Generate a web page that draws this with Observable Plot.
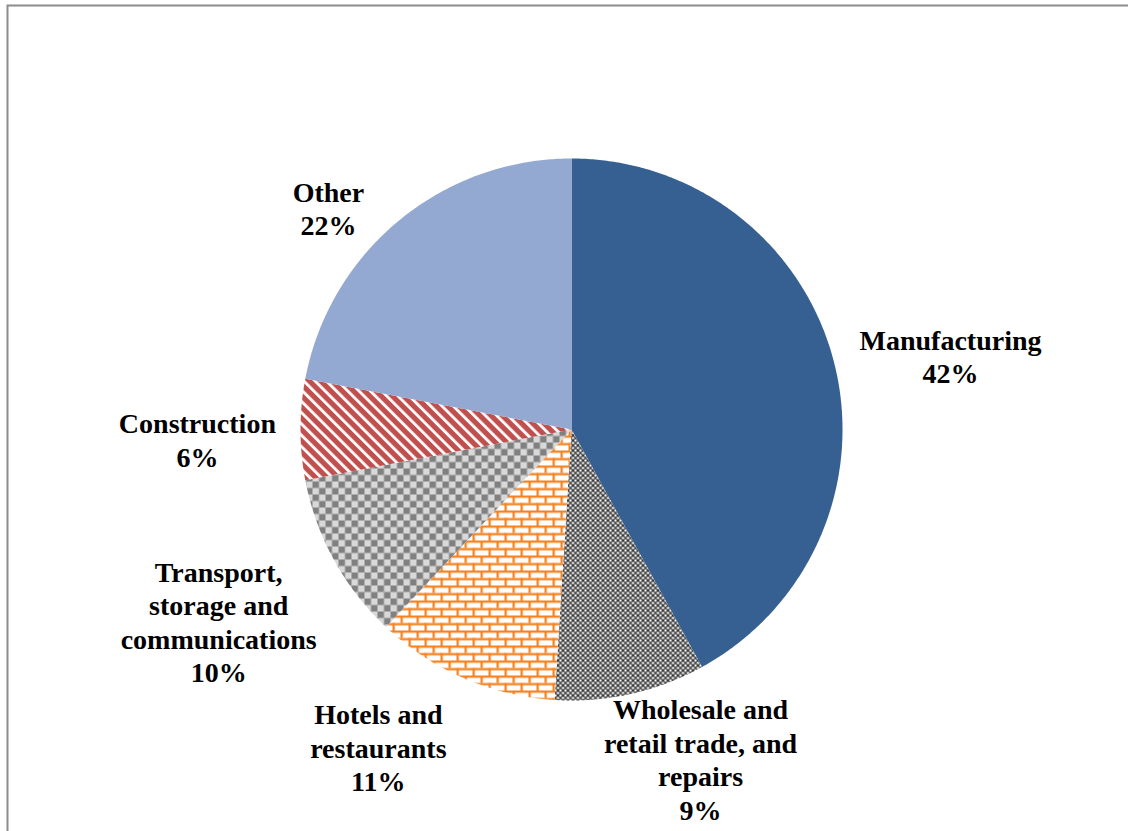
<!DOCTYPE html>
<html><head><meta charset="utf-8">
<script src="https://cdn.jsdelivr.net/npm/d3@7"></script>
<script src="https://cdn.jsdelivr.net/npm/@observablehq/plot@0.6"></script>
<style>html,body{margin:0;padding:0;background:#fff;overflow:hidden}#chart svg{display:block}</style>
</head><body><div id="chart"></div>
<script>
// ---- data ----
const sectors = ["Manufacturing", "Wholesale and retail trade, and repairs", "Hotels and restaurants",
  "Transport, storage and communications", "Construction", "Other"];
const shares = [42, 9, 11, 10, 6, 22];
const labelLines = [["Manufacturing"], ["Wholesale and", "retail trade, and", "repairs"], ["Hotels and", "restaurants"],
  ["Transport,", "storage and", "communications"], ["Construction"], ["Other"]];

// ---- styles / layout ----
const sliceFills = ["#376092", "url(#pWholesale)", "url(#pBrick)", "url(#pChecker)", "url(#pStripes)", "#94A9D1"];
const labelAngleShift = [3.4, -8.8, 7.9, 0.3, -1.5, -8];   // degrees, relative to slice mid-angle
const labelRadius = [1.43, 1.31, 1.377, 1.487, 1.386, 1.219]; // in multiples of 270px

const W = 1128, H = 831, R = 271, cx = 571, cy = 429;

const total = d3.sum(shares);
let acc = 0;
const slices = sectors.map((s, i) => {
  const a0 = acc / total * 2 * Math.PI; acc += shares[i];
  const a1 = acc / total * 2 * Math.PI;
  return {s, i, a0, a1, mid: (a0 + a1) / 2};
});
const pts = [];
for (const sl of slices) {
  const f = sliceFills[sl.i];
  pts.push({s: sl.s, f, x: 0, y: 0});
  const n = Math.max(2, Math.ceil((sl.a1 - sl.a0) / (Math.PI / 360)));
  for (let k = 0; k <= n; k++) {
    const a = sl.a0 + (sl.a1 - sl.a0) * k / n;
    pts.push({s: sl.s, f, x: Math.sin(a), y: Math.cos(a)});
  }
}
const labels = slices.map(sl => {
  const a = sl.mid + labelAngleShift[sl.i] * Math.PI / 180;
  const r = labelRadius[sl.i] * 270 / R;
  return {x: r * Math.sin(a), y: r * Math.cos(a),
    text: labelLines[sl.i].concat([Math.round(shares[sl.i] / total * 100) + "%"]).join("\n")};
});

const chart = Plot.plot({
  width: W, height: H, margin: 0,
  x: {domain: [-cx / R, (W - cx) / R], axis: null},
  y: {domain: [(cy - H) / R, cy / R], axis: null},
  color: {type: "identity"},
  marks: [
    Plot.frame({stroke: "#8c8c8c", strokeWidth: 2, insetLeft: 7, insetTop: 5, insetRight: -20, insetBottom: -20}),
    Plot.line(pts, {x: "x", y: "y", z: "s", fill: "f", stroke: "none", curve: "linear"}),
    Plot.text(labels, {x: "x", y: "y", text: "text", fontFamily: "'Liberation Serif', 'Times New Roman', serif",
      fontWeight: "bold", fontSize: 28, lineHeight: 33.5 / 28, fill: "#000", textAnchor: "middle", lineAnchor: "middle"})
  ]
});

const ns = "http://www.w3.org/2000/svg";
const defs = document.createElementNS(ns, "defs");
defs.innerHTML = `
<pattern id="pWholesale" patternUnits="userSpaceOnUse" width="5" height="5">
  <rect width="5" height="5" fill="#ffffff"/>
  <path d="M0,2.5 L2.5,0 L5,2.5 L2.5,5 Z" fill="none" stroke="#1a1a1a" stroke-width="1.1"/>
</pattern>
<pattern id="pBrick" patternUnits="userSpaceOnUse" width="16" height="15">
  <rect width="16" height="15" fill="#ffffff"/>
  <rect x="0" y="0" width="16" height="2.3" fill="#F58220"/>
  <rect x="0" y="7.5" width="16" height="2.3" fill="#F58220"/>
  <rect x="0" y="0" width="2.3" height="7.5" fill="#F58220"/>
  <rect x="8" y="7.5" width="2.3" height="7.5" fill="#F58220"/>
</pattern>
<pattern id="pChecker" patternUnits="userSpaceOnUse" width="13" height="13">
  <rect width="13" height="13" fill="#d9d9d9"/>
  <rect x="0" y="0" width="6.5" height="6.5" fill="#808080"/>
  <rect x="6.5" y="6.5" width="6.5" height="6.5" fill="#808080"/>
</pattern>
<pattern id="pStripes" patternUnits="userSpaceOnUse" width="8" height="8" patternTransform="rotate(-45)">
  <rect width="8" height="8" fill="#C0504D"/>
  <rect x="0" y="0" width="2.8" height="8" fill="#ffffff"/>
</pattern>`;
chart.prepend(defs);
document.getElementById("chart").appendChild(chart);
</script>
</body></html>
